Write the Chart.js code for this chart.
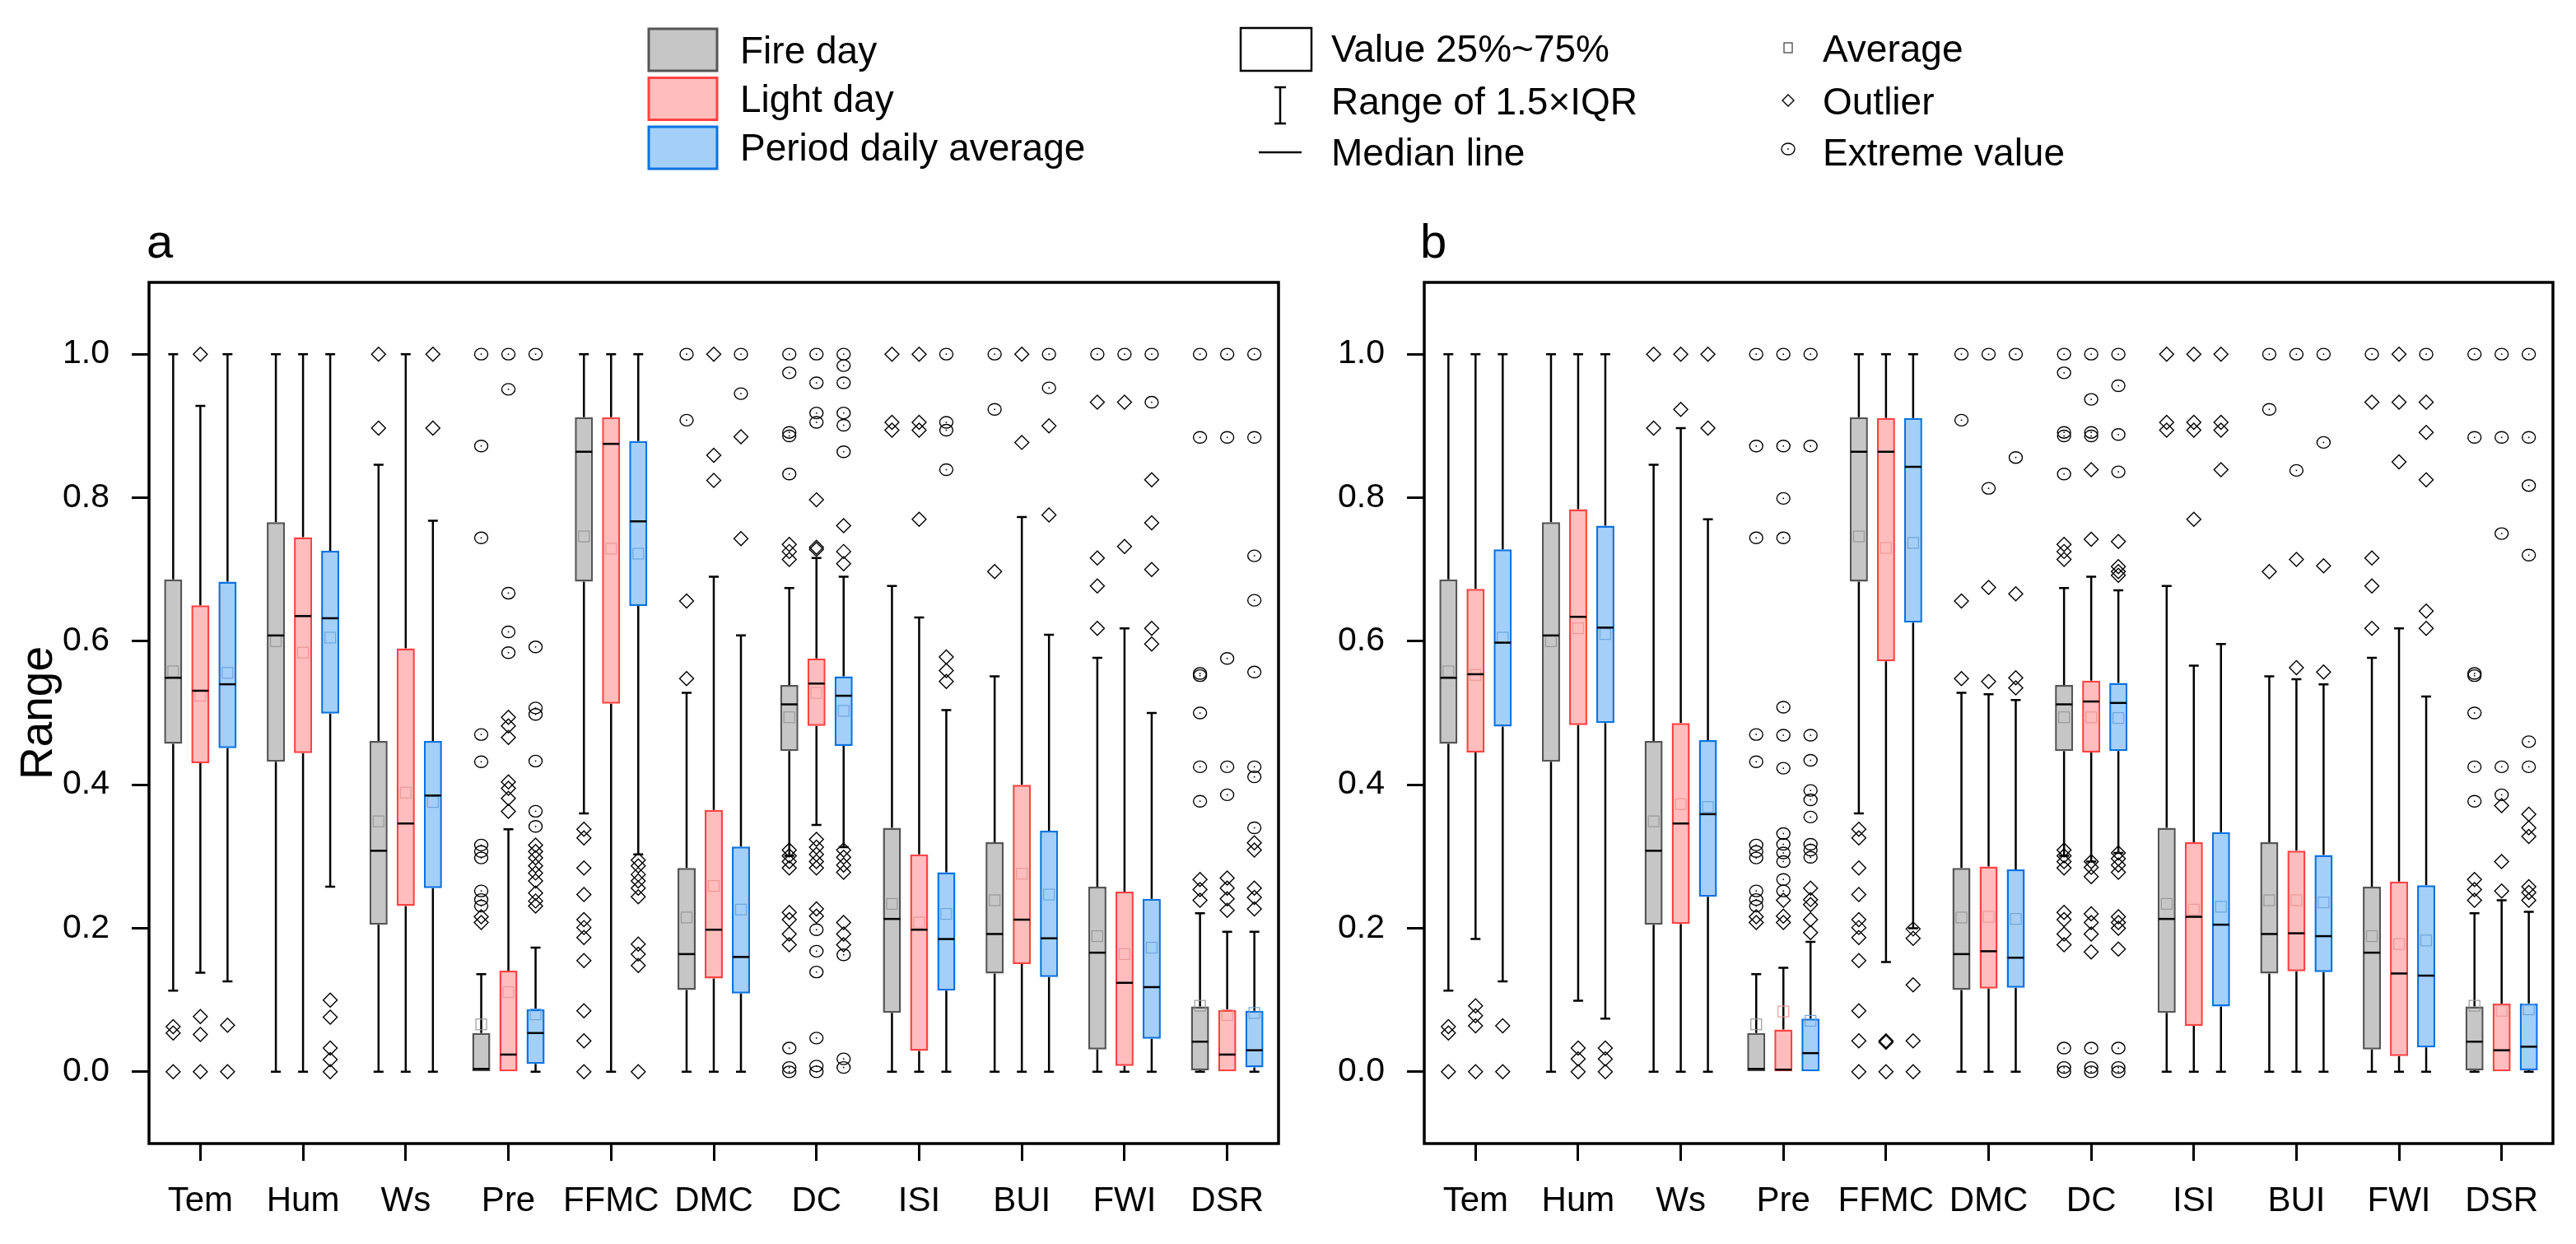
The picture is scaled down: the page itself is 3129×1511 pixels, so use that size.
<!DOCTYPE html>
<html>
<head>
<meta charset="utf-8">
<script src="https://cdn.jsdelivr.net/npm/chart.js@4.4.0/dist/chart.umd.min.js"></script>
<style>
html, body { margin: 0; padding: 0; background: #fff; }
#wrap { position: relative; width: 3129px; height: 1511px; overflow: hidden; background: #fff; }
canvas { position: absolute; }
</style>
</head>
<body>
<div id="wrap">
  <canvas id="legend" width="3129" height="250" style="left:0;top:0;width:3129px;height:250px"></canvas>
  <canvas id="chartA" width="1565" height="1261" style="left:0;top:250px;width:1565px;height:1261px"></canvas>
  <canvas id="chartB" width="1564" height="1261" style="left:1565px;top:250px;width:1564px;height:1261px"></canvas>
</div>
<script>
const categories = ['Tem', 'Hum', 'Ws', 'Pre', 'FFMC', 'DMC', 'DC', 'ISI', 'BUI', 'FWI', 'DSR'];
const yTicks = [0, 0.2, 0.4, 0.6, 0.8, 1.0];

// each row: [lower whisker, Q1, median, Q3, upper whisker, mean]
// fire days are the same in both panels
const fireStats = [
  [0.113, 0.457, 0.549, 0.686, 1.0, 0.558],
  [0, 0.432, 0.608, 0.766, 1.0, 0.600],
  [0, 0.205, 0.308, 0.461, 0.846, 0.349],
  [0, 0, 0.004, 0.054, 0.136, 0.066],
  [0.360, 0.683, 0.864, 0.912, 1.0, 0.746],
  [0, 0.114, 0.164, 0.284, 0.528, 0.215],
  [0.301, 0.447, 0.512, 0.539, 0.674, 0.494],
  [0, 0.082, 0.213, 0.340, 0.677, 0.234],
  [0, 0.137, 0.192, 0.320, 0.551, 0.239],
  [0, 0.031, 0.166, 0.258, 0.577, 0.189],
  [0, 0.002, 0.042, 0.091, 0.221, 0.092]
];
const fireOutliers = [
  [0.063, 0.054, 0], [], [1.0, 0.897], [0.216, 0.208],
  [0.338, 0.326, 0.284, 0.247, 0.212, 0.201, 0.187, 0.155, 0.085, 0.043, 0],
  [0.656, 0.548],
  [0.735, 0.725, 0.714, 0.309, 0.301, 0.293, 0.284, 0.222, 0.212, 0.192, 0.177],
  [1.0, 0.905, 0.894], [0.697], [0.933, 0.716, 0.677, 0.618], [0.268, 0.254, 0.239]
];
const fireExtremes = [
  [], [], [], [1.0, 0.872, 0.744, 0.470, 0.432, 0.316, 0.307, 0.298, 0.252, 0.240, 0.231],
  [], [1.0, 0.908], [1.0, 0.974, 0.891, 0.886, 0.833, 0.033, 0.006, 0],
  [], [1.0, 0.923], [1.0], [1.0, 0.884, 0.555, 0.552, 0.500, 0.425, 0.377]
];

// panel a
const lightStatsA = [
  [0.138, 0.430, 0.531, 0.650, 0.928, 0.524],
  [0, 0.444, 0.635, 0.745, 1.0, 0.584],
  [0, 0.231, 0.346, 0.590, 1.0, 0.389],
  [0, 0, 0.024, 0.141, 0.338, 0.111],
  [0, 0.513, 0.875, 0.912, 1.0, 0.729],
  [0, 0.130, 0.198, 0.365, 0.690, 0.259],
  [0.344, 0.482, 0.541, 0.576, 0.716, 0.528],
  [0, 0.029, 0.198, 0.303, 0.633, 0.208],
  [0, 0.150, 0.212, 0.400, 0.773, 0.276],
  [0, 0.008, 0.124, 0.251, 0.618, 0.164],
  [0, 0, 0.024, 0.086, 0.195, 0.079]
];
const lightOutliersA = [
  [1.0, 0.077, 0.052, 0], [], [], [0.494, 0.482, 0.466, 0.404, 0.395, 0.381, 0.363],
  [], [1.0, 0.859, 0.824],
  [0.797, 0.731, 0.728, 0.324, 0.313, 0.303, 0.293, 0.284, 0.227, 0.217],
  [1.0, 0.905, 0.894, 0.770], [1.0, 0.877], [0.933, 0.732], [0.270, 0.256, 0.241, 0.225]
];
const lightExtremesA = [
  [], [], [], [1.0, 0.951, 0.667, 0.613, 0.584],
  [], [], [1.0, 0.960, 0.918, 0.905, 0.198, 0.168, 0.139, 0.047, 0.008, 0],
  [], [], [1.0], [1.0, 0.884, 0.576, 0.425, 0.386]
];
const periodStatsA = [
  [0.126, 0.451, 0.540, 0.683, 1.0, 0.556],
  [0.258, 0.499, 0.632, 0.726, 1.0, 0.605],
  [0, 0.256, 0.385, 0.461, 0.768, 0.376],
  [0, 0.011, 0.054, 0.087, 0.173, 0.080],
  [0.303, 0.649, 0.767, 0.879, 1.0, 0.722],
  [0, 0.109, 0.160, 0.314, 0.608, 0.226],
  [0.313, 0.454, 0.524, 0.551, 0.690, 0.503],
  [0, 0.113, 0.185, 0.278, 0.504, 0.220],
  [0, 0.132, 0.186, 0.336, 0.609, 0.247],
  [0, 0.046, 0.118, 0.241, 0.500, 0.173],
  [0, 0.006, 0.030, 0.085, 0.195, 0.082]
];
const periodOutliersA = [
  [0.065, 0], [0.10, 0.076, 0.033, 0.017, 0], [1.0, 0.897],
  [0.316, 0.307, 0.298, 0.287, 0.277, 0.266, 0.249, 0.238, 0.231],
  [0.295, 0.287, 0.275, 0.266, 0.256, 0.244, 0.178, 0.164, 0.148, 0],
  [0.885, 0.743],
  [0.761, 0.725, 0.708, 0.309, 0.299, 0.288, 0.278, 0.208, 0.192, 0.177],
  [0.578, 0.559, 0.544], [0.900, 0.776], [0.825, 0.765, 0.700, 0.618, 0.596],
  [0.319, 0.309, 0.256, 0.243, 0.227]
];
const periodExtremesA = [
  [], [], [], [1.0, 0.592, 0.507, 0.498, 0.433, 0.363, 0.342],
  [], [1.0, 0.945], [1.0, 0.984, 0.960, 0.918, 0.901, 0.864, 0.163, 0.018, 0.006],
  [1.0, 0.905, 0.894, 0.839], [1.0, 0.953], [1.0, 0.933],
  [1.0, 0.884, 0.719, 0.657, 0.557, 0.425, 0.411, 0.340]
];

// panel b
const lightStatsB = [
  [0.185, 0.445, 0.554, 0.673, 1.0, 0.553],
  [0.099, 0.483, 0.634, 0.784, 1.0, 0.618],
  [0, 0.206, 0.346, 0.486, 0.897, 0.373],
  [0, 0, 0.003, 0.059, 0.145, 0.084],
  [0.153, 0.572, 0.864, 0.911, 1.0, 0.730],
  [0, 0.116, 0.168, 0.286, 0.526, 0.216],
  [0.293, 0.445, 0.516, 0.545, 0.690, 0.494],
  [0, 0.064, 0.216, 0.320, 0.566, 0.226],
  [0, 0.140, 0.193, 0.308, 0.547, 0.239],
  [0, 0.022, 0.137, 0.265, 0.618, 0.178],
  [0, 0, 0.030, 0.095, 0.239, 0.085]
];
const lightOutliersB = [
  [0.092, 0.078, 0.064, 0], [0.033, 0.018, 0], [1.0, 0.923], [0.239, 0.217, 0.208],
  [0.043, 0.041, 0], [0.675, 0.544],
  [0.839, 0.742, 0.293, 0.285, 0.272, 0.220, 0.208, 0.192, 0.167],
  [1.0, 0.905, 0.894, 0.770], [0.714, 0.563], [1.0, 0.933, 0.850], [0.371, 0.293, 0.252]
];
const lightExtremesB = [
  [], [], [], [1.0, 0.872, 0.799, 0.744, 0.508, 0.469, 0.423, 0.332, 0.317, 0.305, 0.293, 0.268, 0.252],
  [], [1.0, 0.813], [1.0, 0.937, 0.891, 0.886, 0.033, 0.006, 0],
  [], [1.0, 0.838], [], [1.0, 0.884, 0.750, 0.425, 0.386]
];
const periodStatsB = [
  [0.126, 0.481, 0.598, 0.728, 1.0, 0.605],
  [0.074, 0.486, 0.619, 0.761, 1.0, 0.610],
  [0, 0.244, 0.359, 0.462, 0.770, 0.369],
  [0, 0, 0.026, 0.074, 0.181, 0.071],
  [0.200, 0.626, 0.843, 0.911, 1.0, 0.737],
  [0, 0.117, 0.159, 0.282, 0.518, 0.213],
  [0.305, 0.447, 0.514, 0.542, 0.671, 0.493],
  [0, 0.091, 0.205, 0.334, 0.596, 0.230],
  [0, 0.139, 0.189, 0.302, 0.540, 0.236],
  [0, 0.034, 0.134, 0.260, 0.523, 0.183],
  [0, 0.002, 0.035, 0.095, 0.223, 0.087]
];
const periodOutliersB = [
  [0.064, 0], [0.033, 0.018, 0], [1.0, 0.897], [0.256, 0.240, 0.233, 0.212, 0.194],
  [0.199, 0.186, 0.121, 0.043, 0], [0.666, 0.549, 0.535],
  [0.739, 0.704, 0.697, 0.692, 0.305, 0.297, 0.288, 0.278, 0.216, 0.208, 0.200, 0.171],
  [1.0, 0.905, 0.894, 0.839], [0.705, 0.557], [0.933, 0.891, 0.825, 0.642, 0.618],
  [0.359, 0.340, 0.328, 0.258, 0.250, 0.239]
];
const periodExtremesB = [
  [], [], [], [1.0, 0.872, 0.469, 0.434, 0.392, 0.379, 0.355, 0.317, 0.309, 0.299],
  [], [1.0, 0.856], [1.0, 0.956, 0.888, 0.836, 0.033, 0.006, 0],
  [], [1.0, 0.877], [1.0], [1.0, 0.884, 0.817, 0.720, 0.460, 0.425]
];

const seriesStyle = [
  { label: 'Fire day', fill: '#c6c6c6', border: '#555555', mean: '#999999' },
  { label: 'Light day', fill: '#ffbdbd', border: '#ff4343', mean: '#ec9898' },
  { label: 'Period daily average', fill: '#a3cff8', border: '#0b73e0', mean: '#6fa6de' }
];

const FONT = '"Liberation Sans", Arial, Helvetica, sans-serif';

function diamond(ctx, x, y, r) {
  ctx.beginPath();
  ctx.moveTo(x, y - r);
  ctx.lineTo(x + r, y);
  ctx.lineTo(x, y + r);
  ctx.lineTo(x - r, y);
  ctx.closePath();
  ctx.stroke();
}

function ring(ctx, x, y) {
  ctx.beginPath();
  ctx.ellipse(x, y, 8, 7, 0, 0, 2 * Math.PI);
  ctx.stroke();
  ctx.fillStyle = '#000';
  ctx.fillRect(x - 0.8, y - 0.8, 1.6, 1.6);
}

function boxExtras(series, panelLabel, opt) {
  return {
    id: 'boxExtras',
    beforeDatasetsDraw(chart) {
      const ctx = chart.ctx, y = chart.scales.y;
      ctx.save();
      ctx.strokeStyle = '#000';
      ctx.lineWidth = 2.5;
      series.forEach((s, d) => {
        chart.getDatasetMeta(d).data.forEach((bar, i) => {
          const r = s.stats[i];
          const x = bar.x, cap = 6;
          ctx.beginPath();
          if (r[4] > r[3]) {
            ctx.moveTo(x, y.getPixelForValue(r[3]));
            ctx.lineTo(x, y.getPixelForValue(r[4]));
            ctx.moveTo(x - cap, y.getPixelForValue(r[4]));
            ctx.lineTo(x + cap, y.getPixelForValue(r[4]));
          }
          if (r[0] < r[1]) {
            ctx.moveTo(x, y.getPixelForValue(r[1]));
            ctx.lineTo(x, y.getPixelForValue(r[0]));
            ctx.moveTo(x - cap, y.getPixelForValue(r[0]));
            ctx.lineTo(x + cap, y.getPixelForValue(r[0]));
          }
          ctx.stroke();
        });
      });
      ctx.restore();
    },
    afterDatasetsDraw(chart) {
      const ctx = chart.ctx, y = chart.scales.y, area = chart.chartArea;
      ctx.save();
      series.forEach((s, d) => {
        chart.getDatasetMeta(d).data.forEach((bar, i) => {
          const r = s.stats[i];
          const x = bar.x, half = bar.width / 2;
          // mean
          ctx.strokeStyle = seriesStyle[d].mean;
          ctx.lineWidth = 1.2;
          const ym = y.getPixelForValue(r[5]);
          ctx.strokeRect(x - 6.5, ym - 6.5, 13, 13);
          // median
          ctx.strokeStyle = '#000';
          ctx.lineWidth = 2.5;
          const yMed = y.getPixelForValue(r[2]);
          ctx.beginPath();
          ctx.moveTo(x - half + 1, yMed);
          ctx.lineTo(x + half - 1, yMed);
          ctx.stroke();
          // outliers and extremes
          ctx.lineWidth = 1.4;
          s.outliers[i].forEach(v => diamond(ctx, x, y.getPixelForValue(v), 8.5));
          s.extremes[i].forEach(v => ring(ctx, x, y.getPixelForValue(v)));
        });
      });
      // frame
      ctx.strokeStyle = '#000';
      ctx.lineWidth = 3.5;
      ctx.strokeRect(area.left, area.top, area.right - area.left, area.bottom - area.top);
      // panel label
      ctx.fillStyle = '#000';
      ctx.font = '58px ' + FONT;
      ctx.textBaseline = 'alphabetic';
      ctx.textAlign = 'left';
      ctx.fillText(panelLabel, opt.labelX, 63);
      // y axis title
      if (opt.yTitle) {
        ctx.save();
        ctx.translate(63, (area.top + area.bottom) / 2);
        ctx.rotate(-Math.PI / 2);
        ctx.font = '55px ' + FONT;
        ctx.textAlign = 'center';
        ctx.textBaseline = 'alphabetic';
        ctx.fillText(opt.yTitle, 0, 0);
        ctx.restore();
      }
      ctx.restore();
    }
  };
}

function makeChart(id, series, panelLabel, opt) {
  const datasets = series.map((s, k) => ({
    label: seriesStyle[k].label,
    data: s.stats.map(r => [r[1], r[3]]),
    backgroundColor: seriesStyle[k].fill,
    borderColor: seriesStyle[k].border,
    borderWidth: 2.5,
    borderSkipped: false,
    categoryPercentage: 0.794,
    barPercentage: 0.667
  }));
  return new Chart(document.getElementById(id), {
    type: 'bar',
    data: { labels: categories, datasets: datasets },
    options: {
      responsive: false,
      animation: false,
      devicePixelRatio: 1,
      layout: { padding: { top: 93, right: opt.padRight, bottom: 0, left: 0 } },
      plugins: { legend: { display: false }, tooltip: { enabled: false } },
      scales: {
        x: {
          offset: true,
          grid: { offset: false, drawOnChartArea: false, drawTicks: true, tickLength: 21, tickWidth: 3, tickColor: '#000' },
          border: { display: false },
          ticks: { color: '#000', font: { family: FONT, size: 42 }, padding: 24, maxRotation: 0, autoSkip: false },
          afterFit: s => { s.height = 122; }
        },
        y: {
          min: -0.1,
          max: 1.1,
          afterBuildTicks: s => { s.ticks = yTicks.map(v => ({ value: v })); },
          grid: { drawOnChartArea: false, drawTicks: true, tickLength: 21, tickWidth: 3, tickColor: '#000' },
          border: { display: false },
          ticks: { color: '#000', font: { family: FONT, size: 41 }, padding: 27, callback: v => Number(v).toFixed(1) },
          afterFit: s => { s.width = opt.yWidth; }
        }
      }
    },
    plugins: [boxExtras(series, panelLabel, opt)]
  });
}

function drawLegend() {
  const ctx = document.getElementById('legend').getContext('2d');
  ctx.font = '46px ' + FONT;
  ctx.textBaseline = 'alphabetic';
  const rows = [77, 136, 195];
  seriesStyle.forEach((s, k) => {
    const top = 34 + k * 59.5;
    ctx.fillStyle = s.fill;
    ctx.fillRect(787, top, 85, 53);
    ctx.strokeStyle = s.border;
    ctx.lineWidth = 3;
    ctx.strokeRect(788, top + 1, 83, 51);
    ctx.fillStyle = '#000';
    ctx.fillText(s.label, 899, rows[k]);
  });
  // box / whisker / median keys
  ctx.strokeStyle = '#000';
  ctx.lineWidth = 2.5;
  ctx.strokeRect(1507, 34, 86, 52);
  ctx.beginPath();
  ctx.moveTo(1555, 106); ctx.lineTo(1555, 150);
  ctx.moveTo(1548, 106); ctx.lineTo(1562, 106);
  ctx.moveTo(1548, 150); ctx.lineTo(1562, 150);
  ctx.moveTo(1529, 185); ctx.lineTo(1581, 185);
  ctx.stroke();
  ctx.fillStyle = '#000';
  ctx.fillText('Value 25%~75%', 1617, 75);
  ctx.fillText('Range of 1.5\u00d7IQR', 1617, 139);
  ctx.fillText('Median line', 1617, 201);
  // point keys
  ctx.strokeStyle = '#555';
  ctx.lineWidth = 1.4;
  ctx.strokeRect(2167, 52, 10, 12);
  ctx.strokeStyle = '#000';
  diamond(ctx, 2172, 122, 7);
  ring(ctx, 2172, 181);
  ctx.fillStyle = '#000';
  ctx.fillText('Average', 2214, 75);
  ctx.fillText('Outlier', 2214, 139);
  ctx.fillText('Extreme value', 2214, 201);
}

drawLegend();

makeChart('chartA', [
  { stats: fireStats, outliers: fireOutliers, extremes: fireExtremes },
  { stats: lightStatsA, outliers: lightOutliersA, extremes: lightExtremesA },
  { stats: periodStatsA, outliers: periodOutliersA, extremes: periodExtremesA }
], 'a', { padRight: 12, yWidth: 181, yTitle: 'Range', labelX: 178 });

makeChart('chartB', [
  { stats: fireStats, outliers: fireOutliers, extremes: fireExtremes },
  { stats: lightStatsB, outliers: lightOutliersB, extremes: lightExtremesB },
  { stats: periodStatsB, outliers: periodOutliersB, extremes: periodExtremesB }
], 'b', { padRight: 28, yWidth: 165, yTitle: '', labelX: 160 });
</script>
</body>
</html>
